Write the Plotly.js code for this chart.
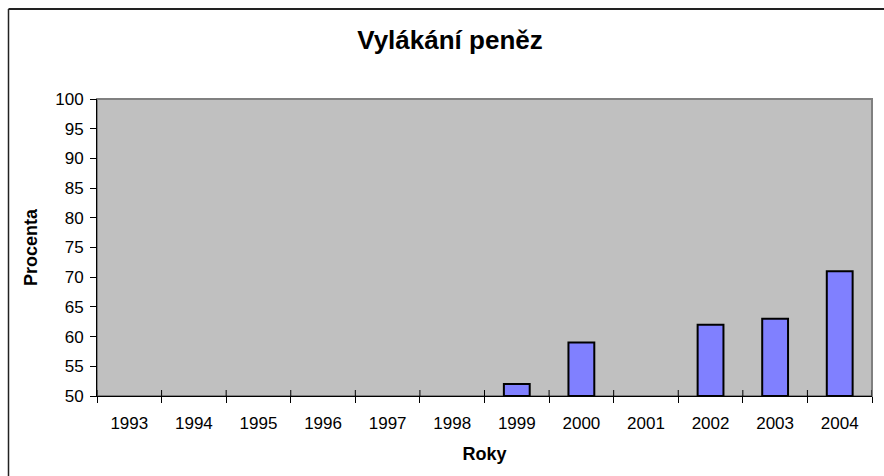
<!DOCTYPE html>
<html>
<head>
<meta charset="utf-8">
<script src="https://cdn.plot.ly/plotly-3.0.1.min.js"></script>
<style>
html,body{margin:0;padding:0;background:#fff;}
#chart{width:884px;height:476px;}
</style>
</head>
<body>
<div id="chart"></div>
<script>
const years = ['1993','1994','1995','1996','1997','1998','1999','2000','2001','2002','2003','2004'];
const percent = [null,null,null,null,null,null,52,59,null,62,63,71];
const chartTitle = 'Vylákání peněz';
const xTitle = 'Roky';
const yTitle = 'Procenta';

const W = 884, H = 476;
const mL = 97, mR = 12, mT = 99, mB = 80;
const pw = W - mL - mR, ph = H - mT - mB;

// inner halves of the x tick marks (ticks cross the axis)
const tickShapes = [];
for (let i = 0; i <= years.length; i++) {
  tickShapes.push({
    type: 'line', xref: 'x', yref: 'paper',
    x0: i - 0.5, x1: i - 0.5, y0: 0, y1: 6 / ph,
    line: {color: '#000', width: 1}, layer: 'above'
  });
}

const px = v => (v - mL) / pw;          // container px -> paper x
const py = v => (mT + ph - v) / ph;     // container px -> paper y

const shapes = [
  // plot area frame (gray)
  {type: 'rect', xref: 'paper', yref: 'paper', x0: 0, x1: 1, y0: 0, y1: 1,
   line: {color: '#808080', width: 2}, fillcolor: 'rgba(0,0,0,0)', layer: 'below'},
  // outer chart border: top and left edges only (rest is cut off)
  {type: 'line', xref: 'paper', yref: 'paper', x0: px(8.5), x1: px(W), y0: py(9), y1: py(9),
   line: {color: '#222', width: 2}, layer: 'above'},
  {type: 'line', xref: 'paper', yref: 'paper', x0: px(8.5), x1: px(8.5), y0: py(9), y1: py(H),
   line: {color: '#222', width: 1.5}, layer: 'above'}
].concat(tickShapes);

const trace = {
  type: 'bar', x: years, y: percent.map(v => v === null ? null : v - 50), base: 50,
  marker: {color: '#8080FF', line: {color: '#000', width: 2}},
  customdata: percent, hovertemplate: '%{x}: %{customdata}<extra></extra>'
};

const layout = {
  width: W, height: H,
  margin: {l: mL, r: mR, t: mT, b: mB, pad: 0},
  paper_bgcolor: '#fff', plot_bgcolor: '#C0C0C0',
  font: {family: 'Arial, "Liberation Sans", sans-serif', size: 17, color: '#000'},
  title: {text: '<b>' + chartTitle + '</b>', font: {size: 26, color: '#000'},
          xref: 'container', x: 450 / W, xanchor: 'center',
          yref: 'container', y: 1 - 40 / H, yanchor: 'middle'},
  bargap: 0.6,
  showlegend: false,
  xaxis: {
    type: 'category', categoryorder: 'array', categoryarray: years,
    range: [-0.5, years.length - 0.5],
    showline: true, linecolor: '#000', linewidth: 1,
    ticks: 'outside', ticklen: 6, tickcolor: '#000', tickwidth: 1,
    tickson: 'boundaries', showgrid: false,
    tickfont: {size: 17}, ticklabelstandoff: 12,
    title: {text: '<b>' + xTitle + '</b>', font: {size: 18}, standoff: 14}
  },
  yaxis: {
    range: [50, 100], dtick: 5, tick0: 50,
    showline: true, linecolor: '#000', linewidth: 1,
    ticks: 'outside', ticklen: 6, tickcolor: '#000', tickwidth: 1,
    showgrid: false, zeroline: false,
    tickfont: {size: 17}, ticklabelstandoff: 3,
    title: {text: '<b>' + yTitle + '</b>', font: {size: 18}, standoff: 12}
  },
  shapes: shapes
};

Plotly.newPlot('chart', [trace], layout, {displayModeBar: false, staticPlot: true});
</script>
</body>
</html>
